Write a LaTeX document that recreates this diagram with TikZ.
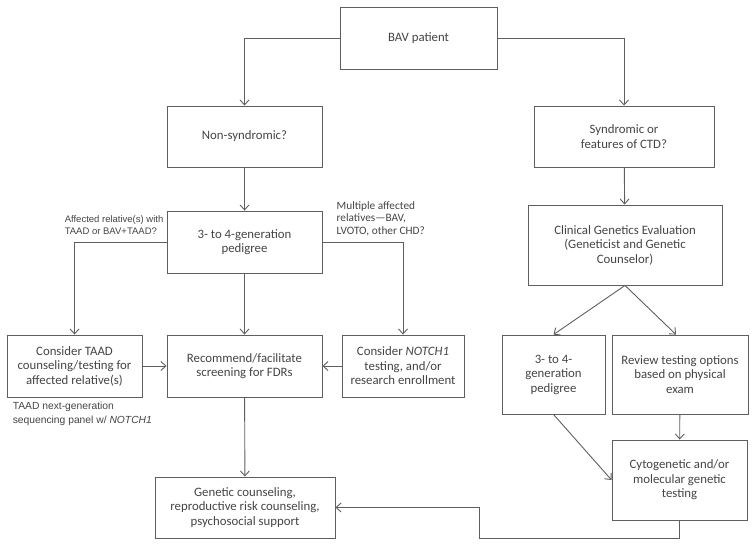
\documentclass[tikz,border=0pt]{standalone}
\usepackage{fontspec}
\setmainfont{Carlito}
\newfontfamily\notefont{Liberation Sans}
\usetikzlibrary{arrows.meta, positioning, calc}
\definecolor{linegray}{RGB}{95,95,95}
\definecolor{textgray}{RGB}{68,68,68}

\begin{document}
\begin{tikzpicture}[
        x=1pt, y=-1pt,
        every node/.style={font=\fontsize{12.8}{14.5}\selectfont, text=textgray},
        box/.style={draw=linegray, line width=0.9pt, align=center, inner sep=2pt},
        flow/.style={-{Straight Barb[length=5pt,width=9pt]}, draw=linegray, line width=0.9pt},
        note/.style={font=\notefont\fontsize{9.5}{12}\selectfont, align=left, inner sep=1pt}
    ]
        \useasboundingbox (0,0) rectangle (754,547);

        \node[box, minimum width=157pt, minimum height=62pt] (bav) at (418.5,38) {BAV patient};
        \node[box, minimum width=155pt, minimum height=61pt] (nonsyn) at (244.5,136.5) {Non-syndromic?};
        \node[box, minimum width=180pt, minimum height=61pt] (syn) at (624,136.5) {Syndromic or\\features of CTD?};
        \node[box, minimum width=155pt, minimum height=62pt] (ped) at (244.5,242) {3- to 4-generation\\pedigree};
        \node[box, minimum width=194pt, minimum height=80pt] (clin) at (625,245) {Clinical Genetics Evaluation\\(Geneticist and Genetic\\Counselor)};
        \node[box, minimum width=135pt, minimum height=62pt] (taad) at (74.5,366) {Consider TAAD\\counseling/testing for\\affected relative(s)};
        \node[box, minimum width=155pt, minimum height=62pt] (rec) at (244.5,366) {Recommend/facilitate\\screening for FDRs};
        \node[box, minimum width=122pt, minimum height=62pt] (notch) at (403,366) {Consider \textit{NOTCH1}\\testing, and/or\\research enrollment};
        \node[box, minimum width=103pt, minimum height=79pt] (pedtwo) at (553.5,374.5) {3- to 4-\\generation\\pedigree};
        \node[box, minimum width=136pt, minimum height=79pt] (review) at (680,374.5) {Review testing options\\based on physical\\exam};
        \node[box, minimum width=135pt, minimum height=80pt] (cyto) at (679.5,480) {Cytogenetic and/or\\molecular genetic\\testing};
        \node[box, minimum width=180pt, minimum height=61pt] (gc) at (245,507.5) {Genetic counseling,\\reproductive risk counseling,\\psychosocial support};

        \node[note, anchor=south east] (affected) at ([xshift=-2pt, yshift=6pt]ped.west) {Affected relative(s) with\\TAAD or BAV+TAAD?};
        \node[note, anchor=south west, font=\fontsize{11.3}{12.5}\selectfont] (multiple) at ([xshift=13pt, yshift=5pt]ped.east) {Multiple affected\\relatives—BAV,\\LVOTO, other CHD?};
        \node[note, anchor=north west, font=\notefont\fontsize{10.3}{14}\selectfont] (ngs) at ([xshift=5pt, yshift=-3pt]taad.south west) {TAAD next-generation\\sequencing panel w/ \textit{NOTCH1}};

        \coordinate (turn) at (479,538);

        \draw[flow] (bav.west) -| (nonsyn.north);
        \draw[flow] (bav.east) -| (syn.north);
        \draw[flow] (nonsyn) -- (ped);
        \draw[flow] (ped.west) -| (taad.north);
        \draw[flow] (ped.east) -| (notch.north);
        \draw[flow] (ped) -- (rec);
        \draw[flow] (taad) -- (rec);
        \draw[flow] (notch) -- (rec);
        \draw[flow] (rec) -- (gc);
        \draw[flow] (syn) -- (clin);
        \draw[flow] (clin.south) -- (pedtwo.north);
        \draw[flow] (clin.south) -- ([xshift=-4pt]review.north);
        \draw[flow] (review) -- (cyto);
        \draw[flow] (pedtwo.south) -- (cyto.west);
        \draw[flow] (cyto.south) |- (turn) |- (gc.east);
    \end{tikzpicture}
\end{document}
